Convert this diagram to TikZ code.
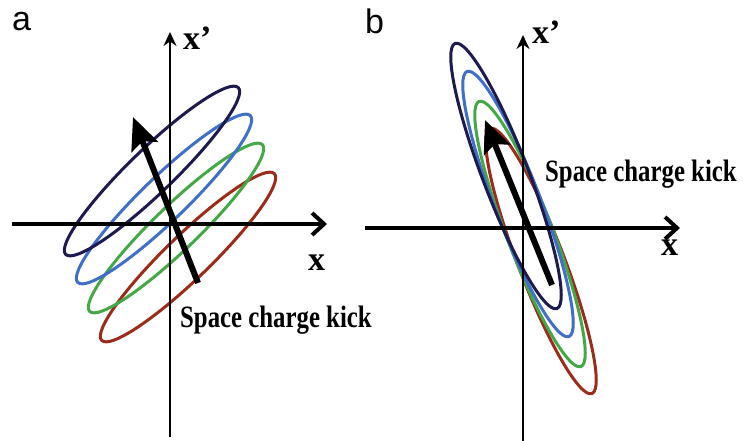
\documentclass[tikz,border=0pt]{standalone}
\usepackage{fontspec}
\setmainfont{Liberation Serif}
\setsansfont{Liberation Sans}
\usepackage{graphicx}
\usepackage{xcolor}
\usetikzlibrary{arrows.meta}
\definecolor{ringnavy}{RGB}{28,26,78}
\definecolor{ringblue}{RGB}{63,111,198}
\definecolor{ringgreen}{RGB}{68,168,70}
\definecolor{ringred}{RGB}{155,44,28}
\newcommand{\squeezed}[1]{\scalebox{0.8}[1]{#1}}
\tikzset{
    xaxis/.style={line width=4pt, -{Straight Barb[length=12pt, width=22pt]}},
    yaxis/.style={line width=2pt, -{Stealth[length=14pt, width=13pt]}},
    ring/.style={line width=3pt},
    kickarr/.style={line width=6pt, -{Stealth[length=32pt, width=28pt, inset=6pt]}},
    panel/.style={font=\sffamily\fontsize{34}{34}\selectfont, anchor=base west, inner sep=0pt},
    axlab/.style={font=\bfseries\fontsize{34}{34}\selectfont, anchor=base west, inner sep=0pt},
    kicklab/.style={font=\bfseries\fontsize{31}{31}\selectfont, anchor=base west, inner sep=0pt},
}

\begin{document}
\begin{tikzpicture}[x=1pt, y=-1pt]
    \useasboundingbox (0,0) rectangle (744,441);
    % panel a
    \coordinate (aW) at (12,224);
    \coordinate (aE) at (327,224);
    \coordinate (aS) at (170,437);
    \coordinate (aN) at (170,32);
    \coordinate (akT) at (198,283);
    \coordinate (akH) at (133,117);
    \draw[ring, ringred]   (188,257) ellipse [x radius=120, y radius=22, rotate=44];
    \draw[ring, ringgreen] (176,228) ellipse [x radius=120, y radius=22, rotate=44];
    \draw[ring, ringblue]  (164,199) ellipse [x radius=120, y radius=22, rotate=44];
    \draw[ring, ringnavy]  (152,171) ellipse [x radius=120, y radius=22, rotate=44];
    \draw[xaxis] (aW) -- (aE);
    \draw[yaxis] (aS) -- (aN);
    \draw[kickarr] (akT) -- (akH);
    \node[panel] (pa) at (12,31) {a};
    \node[axlab] (ya) at (183,50) {x'};
    \node[axlab] (xa) at (308,270) {x};
    \node[kicklab] (ka) at (180,327) {\squeezed{Space charge kick}};
    % panel b
    \coordinate (bW) at (365,228);
    \coordinate (bE) at (680,228);
    \coordinate (bS) at (523,441);
    \coordinate (bN) at (523,35);
    \coordinate (bkT) at (552,285);
    \coordinate (bkH) at (485,120);
    \draw[ring, ringred]   (541,261) ellipse [x radius=142, y radius=23, rotate=-69];
    \draw[ring, ringgreen] (530,234) ellipse [x radius=142, y radius=23, rotate=-69];
    \draw[ring, ringblue]  (518,204) ellipse [x radius=142, y radius=23, rotate=-69];
    \draw[ring, ringnavy]  (506,176) ellipse [x radius=142, y radius=23, rotate=-69];
    \draw[xaxis] (bW) -- (bE);
    \draw[yaxis] (bS) -- (bN);
    \draw[kickarr] (bkT) -- (bkH);
    \node[panel] (pb) at (365,34) {b};
    \node[axlab] (yb) at (532,44) {x'};
    \node[axlab] (xb) at (661,255) {x};
    \node[kicklab] (kb) at (545,181) {\squeezed{Space charge kick}};
\end{tikzpicture}
\end{document}
